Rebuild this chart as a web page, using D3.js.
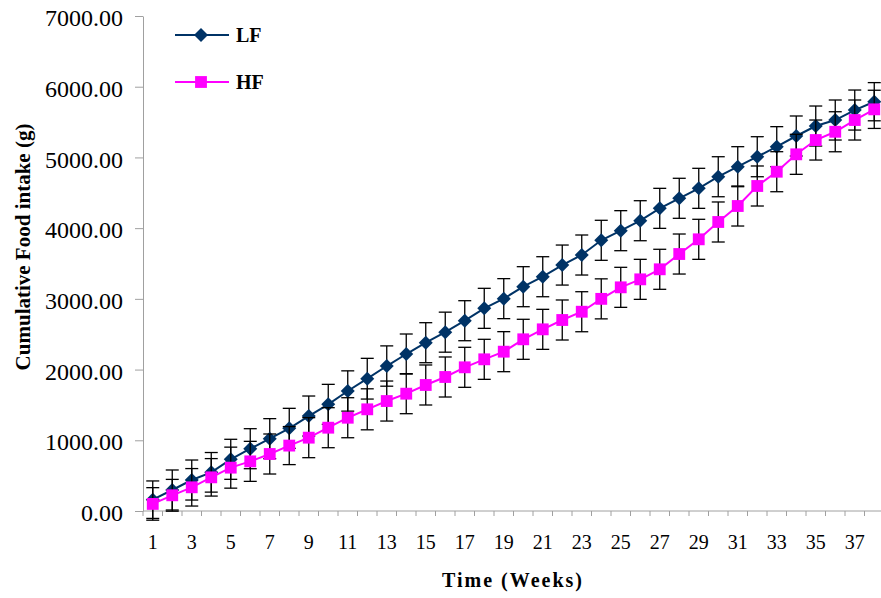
<!DOCTYPE html>
<html>
<head>
<meta charset="utf-8">
<script src="https://cdn.jsdelivr.net/npm/d3@7"></script>
<style>
  body { margin: 0; background: #fff; }
  svg { display: block; font-family: "Liberation Serif", "Times New Roman", serif; }
</style>
</head>
<body>
<div id="canvas"></div>
<script>
// weeks 1..38
const weeks = d3.range(1, 39);

// cumulative food intake (g)
const lfValues = [160, 297, 438, 547, 731, 881, 1023, 1169, 1343, 1508,
    1697, 1871, 2050, 2220, 2380, 2529, 2691, 2866, 3003, 3172,
    3313, 3478, 3620, 3828, 3964, 4105, 4280, 4422, 4563, 4727,
    4869, 5010, 5152, 5303, 5444, 5529, 5670, 5788];
const hfValues = [100, 222, 335, 476, 613, 702, 806, 925, 1037, 1178,
    1319, 1438, 1555, 1659, 1782, 1895, 2032, 2145, 2253, 2428,
    2569, 2701, 2818, 3000, 3163, 3276, 3418, 3634, 3842, 4087,
    4313, 4596, 4798, 5044, 5246, 5363, 5529, 5680];

// error bars (+/-)
const lfErr = [265, 283, 283, 280, 283, 283, 283, 283, 283, 283,
    285, 288, 285, 283, 283, 283, 283, 283, 283, 283,
    283, 283, 283, 283, 283, 283, 283, 283, 283, 283,
    283, 283, 283, 283, 283, 283, 283, 270];
const hfErr = [230, 225, 265, 265, 290, 283, 283, 269, 283, 283,
    283, 290, 283, 283, 283, 283, 283, 283, 283, 283,
    283, 283, 283, 283, 283, 283, 283, 283, 283, 283,
    283, 283, 283, 283, 283, 283, 283, 270];

const yTicks = [0, 1000, 2000, 3000, 4000, 5000, 6000, 7000];
const xTickLabels = d3.range(1, 38, 2);

// diamond = square turned 45 degrees
const series = [
    { name: "LF", values: lfValues, err: lfErr, color: "#003366", size: 98, rot: 45, legendY: 35 },
    { name: "HF", values: hfValues, err: hfErr, color: "#FF00FF", size: 140, rot: 0, legendY: 82 }
];

const width = 881;
const height = 598;
const margin = { top: 16, right: -3, bottom: 87, left: 143 };

const svg = d3.select("#canvas")
    .append("svg")
    .attr("width", width)
    .attr("height", height);

const x = d3.scaleBand()
    .domain(weeks)
    .range([margin.left, width - margin.right])
    .paddingInner(0)
    .paddingOuter(0);

const y = d3.scaleLinear()
    .domain([0, 7000])
    .range([height - margin.bottom, margin.top]);

const cx = d => x(d) + x.bandwidth() / 2;

// y axis
const yAxis = svg.append("g")
    .attr("transform", `translate(${margin.left},0)`)
    .call(d3.axisLeft(y).tickValues(yTicks).tickFormat(d3.format(".2f")).tickSize(8).tickSizeOuter(0));
yAxis.select(".domain").attr("stroke", "#a0a0a0");
yAxis.selectAll(".tick line").attr("stroke", "#a0a0a0");
yAxis.selectAll(".tick text")
    .attr("x", -20)
    .attr("dy", "0.4em")
    .style("font-size", "24px")
    .style("font-family", "Liberation Serif, Times New Roman, serif")
    .attr("fill", "#000");

// x axis (ticks between categories)
const xg = svg.append("g");
xg.append("line")
    .attr("x1", margin.left).attr("x2", width)
    .attr("y1", y(0)).attr("y2", y(0))
    .attr("stroke", "#a0a0a0");
xg.selectAll(".xtick")
    .data(weeks)
    .join("line")
    .attr("class", "xtick")
    .attr("x1", d => x(d)).attr("x2", d => x(d))
    .attr("y1", y(0)).attr("y2", y(0) + 5)
    .attr("stroke", "#a0a0a0");
xg.selectAll(".xlabel")
    .data(xTickLabels)
    .join("text")
    .attr("class", "xlabel")
    .attr("x", d => cx(d))
    .attr("y", 549)
    .attr("text-anchor", "middle")
    .style("font-size", "20px")
    .text(d => d);

// axis titles
svg.append("text")
    .attr("x", 513)
    .attr("y", 587)
    .attr("text-anchor", "middle")
    .style("font-size", "20px")
    .style("font-weight", "bold")
    .style("letter-spacing", "2px")
    .text("Time (Weeks)");

svg.append("text")
    .attr("transform", "translate(30,247) rotate(-90)")
    .attr("text-anchor", "middle")
    .style("font-size", "21px")
    .style("font-weight", "bold")
    .text("Cumulative Food intake (g)");

// series
const line = d3.line()
    .x((d, i) => cx(weeks[i]))
    .y(d => y(d));

series.forEach(s => {
    const g = svg.append("g");
    const marker = d3.symbol(d3.symbolSquare, s.size);

    // error bars
    const eb = g.selectAll(".err")
        .data(s.values)
        .join("g")
        .attr("class", "err")
        .attr("stroke", "#000")
        .attr("stroke-width", 1.3);
    eb.append("line")
        .attr("x1", (d, i) => cx(weeks[i])).attr("x2", (d, i) => cx(weeks[i]))
        .attr("y1", (d, i) => y(d + s.err[i])).attr("y2", (d, i) => y(d - s.err[i]));
    eb.append("line")
        .attr("x1", (d, i) => cx(weeks[i]) - 6.5).attr("x2", (d, i) => cx(weeks[i]) + 6.5)
        .attr("y1", (d, i) => y(d + s.err[i])).attr("y2", (d, i) => y(d + s.err[i]));
    eb.append("line")
        .attr("x1", (d, i) => cx(weeks[i]) - 6.5).attr("x2", (d, i) => cx(weeks[i]) + 6.5)
        .attr("y1", (d, i) => y(d - s.err[i])).attr("y2", (d, i) => y(d - s.err[i]));

    g.append("path")
        .datum(s.values)
        .attr("d", line)
        .attr("fill", "none")
        .attr("stroke", s.color)
        .attr("stroke-width", 2);

    g.selectAll(".pt")
        .data(s.values)
        .join("path")
        .attr("class", "pt")
        .attr("d", marker)
        .attr("transform", (d, i) => `translate(${cx(weeks[i])},${y(d)}) rotate(${s.rot})`)
        .attr("fill", s.color);

    // legend
    const lg = svg.append("g");
    lg.append("line")
        .attr("x1", 175).attr("x2", 229)
        .attr("y1", s.legendY).attr("y2", s.legendY)
        .attr("stroke", s.color)
        .attr("stroke-width", 2);
    lg.append("path")
        .attr("d", marker)
        .attr("transform", `translate(201,${s.legendY}) rotate(${s.rot})`)
        .attr("fill", s.color);
    lg.append("text")
        .attr("x", 236)
        .attr("y", s.legendY + 7)
        .style("font-size", "20px")
        .style("font-weight", "bold")
        .text(s.name);
});
</script>
</body>
</html>
